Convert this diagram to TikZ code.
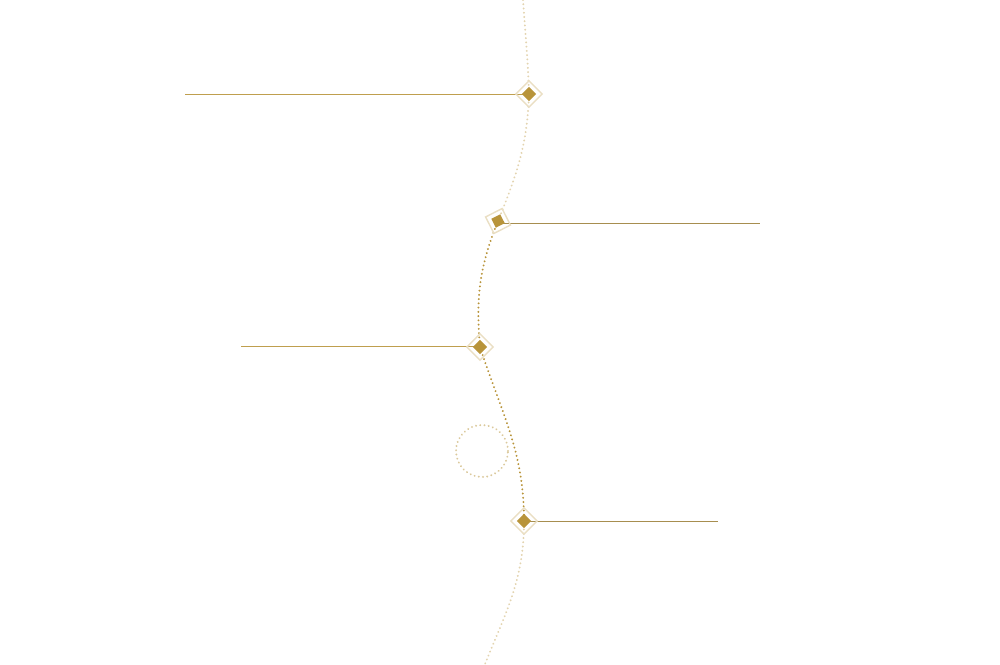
\documentclass[tikz,border=0pt]{standalone}
\usepackage{tikz}
\definecolor{gold}{RGB}{184,148,58}
\tikzset{
  trail/.style={draw=gold, line width=0.6pt, line cap=round, dash pattern=on 0.01pt off 1.2pt},
  trailfaint/.style={trail, draw=gold!40},
  ring/.style={trail, draw=gold!50},
  leader/.style={draw=gold!90, line width=0.28pt},
  leadergrey/.style={draw=gold!70!gray, line width=0.28pt},
  markout/.style={draw=gold!30, line width=0.4pt, minimum size=0.185cm, inner sep=0pt},
  markin/.style={fill=gold, minimum size=0.1cm, inner sep=0pt},
}
\begin{document}
\begin{tikzpicture}
\useasboundingbox (0,0) rectangle (10,6.64);
% points on the trail
\coordinate (top) at (5.23,6.64);
\coordinate (a) at (5.29,5.70);
\coordinate (b) at (4.98,4.43);
\coordinate (c) at (4.80,3.17);
\coordinate (d) at (5.24,1.43);
\coordinate (bottom) at (4.85,0);
% leader ends
\coordinate (aend) at (1.85,5.70);
\coordinate (bend) at (7.60,4.41);
\coordinate (cend) at (2.41,3.18);
\coordinate (dend) at (7.18,1.43);
% trail
\draw[trailfaint] (top) to[out=-86, in=92] (a);
\draw[trailfaint] (a) to[out=-92, in=68] (b);
\draw[trail] (b) to[out=-112, in=95] (c);
\draw[trail] (c) to[out=-72, in=90] (d);
\draw[trailfaint] (d) to[out=-90, in=68] (bottom);
\draw[ring] (4.82,2.13) circle (0.26);
% leaders
\draw[leader] (aend) -- (a);
\draw[leadergrey] (b |- bend) -- (bend);
\draw[leader] (cend) -- (c |- cend);
\draw[leadergrey] (d) -- (dend);
% marks
\node[markout, rotate=45] (ma) at (a) {};
\node[markin, rotate=45] at (a) {};
\node[markout, rotate=27] (mb) at (b) {};
\node[markin, rotate=27] at (b) {};
\node[markout, rotate=45] (mc) at (c) {};
\node[markin, rotate=45] at (c) {};
\node[markout, rotate=45] (md) at (d) {};
\node[markin, rotate=45] at (d) {};
\end{tikzpicture}
\end{document}
